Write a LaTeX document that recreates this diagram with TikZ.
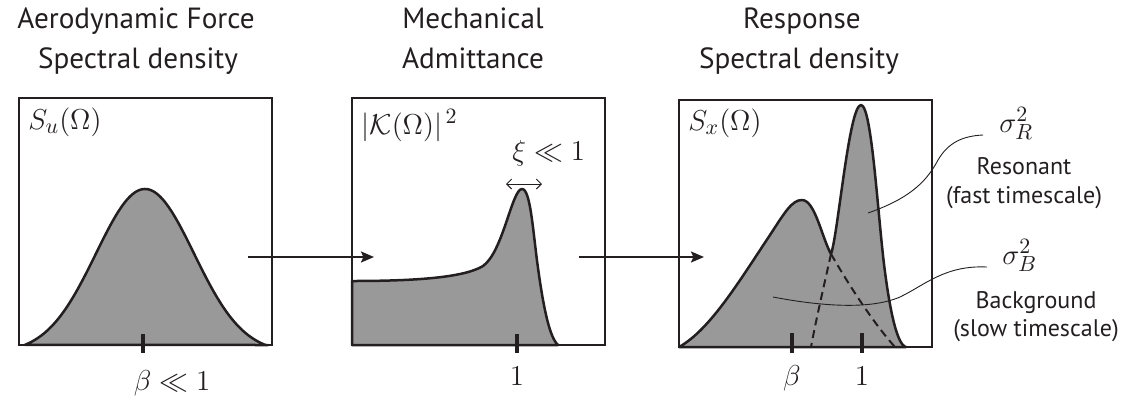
\documentclass[tikz,border=0pt]{standalone}
\usepackage{fontspec}
\setsansfont{PT Sans}
\usetikzlibrary{arrows.meta}
\definecolor{fillg}{RGB}{153,153,153}
\definecolor{ink}{RGB}{35,31,32}
\begin{document}
\begin{tikzpicture}[x=0.5pt,y=-0.5pt,
  box/.style={draw=ink,line width=1.3pt},
  curve/.style={draw=ink,line width=1.25pt,fill=fillg,line join=round},
  tickmark/.style={draw=ink,line width=1.8pt},
  flow/.style={draw=ink,line width=1pt,-{Stealth[length=6.5pt,width=5.5pt,inset=1.2pt]}},
  lead/.style={draw=ink,line width=0.45pt},
  dashline/.style={draw=ink,line width=1pt,dash pattern=on 4pt off 2.5pt},
  title/.style={font=\fontsize{14.6}{17}\sffamily,text=ink,inner sep=0pt,anchor=base},
  note/.style={font=\fontsize{12}{14}\sffamily,text=ink,inner sep=0pt,anchor=base},
  mlabel/.style={font=\fontsize{15.5}{18}\selectfont,text=ink,inner sep=0pt}
]
\useasboundingbox (0,0) rectangle (1131,403);

% titles
\node[title] (t1a) at (136,28) {Aerodynamic Force};
\node[title] (t1b) at (138,68) {Spectral density};
\node[title] (t2a) at (473,28) {Mechanical};
\node[title] (t2b) at (473,68) {Admittance};
\node[title] (t3a) at (802,28) {Response};
\node[title] (t3b) at (799,68) {Spectral density};

% panel 1
\draw[curve] plot[domain=25:268,samples=121] (\x,{min(345,353-164*exp(-((\x-145)*(\x-145))/4802))}) -- cycle;
\draw[box] (19,98) rectangle (272,345);
\draw[tickmark] (143,334) -- (143,353);
\node[mlabel,anchor=base west] (su) at (28,129) {$S_u(\Omega)$};
\node[mlabel,anchor=base] (b1) at (172,390) {$\beta\ll 1$};

% panel 2
\draw[curve] (352,281) .. controls (420,281) and (465,277) .. (483,266)
  .. controls (503,252) and (512,189) .. (522,189)
  .. controls (531,189) and (533,235) .. (539,275)
  .. controls (544,310) and (550,338) .. (558,345) -- (352,345) -- cycle;
\draw[box] (352,98) rectangle (605,345);
\draw[tickmark] (517,334) -- (517,353);
\node[mlabel,anchor=base west] (kk) at (361,134) {$|\mathcal{K}(\Omega)|^{\,2}$};
\node[mlabel,anchor=base west] (xi) at (512,160) {$\xi\ll 1$};
\coordinate (wl) at (506,184);
\coordinate (wr) at (542,184);
\draw[ink,line width=0.5pt,{Straight Barb[length=2.5pt,width=5pt]}-{Straight Barb[length=2.5pt,width=5pt]}] (wl) -- (wr);
\node[mlabel,anchor=base] (one2) at (517,385) {$1$};

% panel 3
\draw[curve] (679,347) .. controls (710,330) and (740,280) .. (770,235)
  .. controls (785,212) and (792,200) .. (802,200)
  .. controls (815,200) and (822,238) .. (831,254)
  .. controls (838,235) and (849,105) .. (861,105)
  .. controls (872,105) and (878,220) .. (885,272)
  .. controls (890,310) and (897,345) .. (906,347) -- cycle;
\draw[dashline] (831,254) .. controls (823,290) and (816,320) .. (811,347);
\draw[dashline] (831,254) .. controls (850,287) and (875,325) .. (895,347);
\draw[box] (679,100) rectangle (932,347);
\draw[tickmark] (792,333) -- (792,353);
\draw[tickmark] (862,333) -- (862,353);
\node[mlabel,anchor=base west] (sx) at (688,130) {$S_x(\Omega)$};
\node[mlabel,anchor=base] (bt) at (792,385) {$\beta$};
\node[mlabel,anchor=base] (one3) at (862,385) {$1$};

% annotations
\node[mlabel,anchor=base west] (sr) at (999,132) {$\sigma_R^2$};
\node[mlabel,anchor=base west] (sb) at (1002,264) {$\sigma_B^2$};
\node[note] (res) at (1024,174) {Resonant};
\node[note] (fast) at (1024,203) {(fast timescale)};
\node[note] (bg) at (1036,308) {Background};
\node[note] (slow) at (1036,336) {(slow timescale)};
\coordinate (r0) at (868,213);
\coordinate (r1) at (983,135);
\draw[lead] (r0) .. controls (905,200) and (925,185) .. (938,160)
  .. controls (948,143) and (962,136) .. (r1);
\coordinate (g0) at (773,297);
\coordinate (g1) at (987,267);
\draw[lead] (g0) .. controls (820,306) and (870,310) .. (900,297)
  .. controls (925,285) and (945,265) .. (g1);

% flow arrows
\coordinate (a1s) at (248,257);
\coordinate (a1e) at (374,257);
\coordinate (a2s) at (579,257);
\coordinate (a2e) at (704,257);
\draw[flow] (a1s) -- (a1e);
\draw[flow] (a2s) -- (a2e);
\end{tikzpicture}
\end{document}
